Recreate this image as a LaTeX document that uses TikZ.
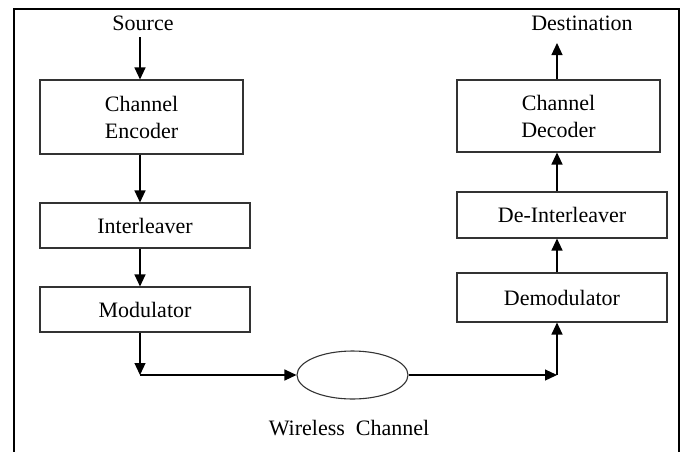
\documentclass[tikz,border=0pt]{standalone}
\usepackage{fontspec}
\setmainfont{Liberation Serif}
\usetikzlibrary{shapes.geometric,arrows.meta}
\begin{document}
\begin{tikzpicture}[x=1pt,y=-1pt,
 blk/.style={draw=black!80, line width=1.1pt, inner sep=0pt, align=center, font=\fontsize{22}{27}\selectfont},
 lbl/.style={inner sep=0pt, font=\fontsize{22}{25}\selectfont},
 arr/.style={-{Triangle[length=12pt,width=11pt]}, line width=1.2pt},
 ln/.style={line width=1.2pt}]
\useasboundingbox (0,0) rectangle (683,451);
\draw[line width=2.6pt] (14,453) -- (14,9) -- (679,9) -- (679,453);
% left column
\node[blk, minimum width=203pt, minimum height=74pt] (enc) at (141.5,117) {Channel\\Encoder};
\node[blk, minimum width=210pt, minimum height=45pt] (intl) at (145,225.5) {Interleaver};
\node[blk, minimum width=210pt, minimum height=45pt] (mod) at (145,309.5) {Modulator};
% right column
\node[blk, minimum width=203pt, minimum height=72pt] (dec) at (558.5,116) {Channel\\Decoder};
\node[blk, minimum width=210pt, minimum height=46pt] (dint) at (562,215) {De-Interleaver};
\node[blk, minimum width=210pt, minimum height=49pt] (dmod) at (562,297.5) {Demodulator};
% channel
\node[ellipse, draw=black!80, line width=1.1pt, minimum width=111pt, minimum height=48pt, inner sep=0pt] (ch) at (352.5,375) {};
% labels
\node[lbl] (src) at (143,23) {Source};
\node[lbl] (dst) at (582,23) {Destination};
\node[lbl] (wl) at (349,428) {Wireless\ \ Channel};
% helper coordinates
\coordinate (L) at (140,0);
\coordinate (R) at (557,0);
\coordinate (s1) at (140,37);
\coordinate (d1) at (557,43);
\coordinate (c1) at (140,375);
\coordinate (c2) at (557,375);
% connectors
\draw[arr] (s1) -- (enc.north -| L);
\draw[arr] (enc.south -| L) -- (intl.north -| L);
\draw[arr] (intl.south -| L) -- (mod.north -| L);
\draw[arr] (mod.south -| L) -- (c1);
\draw[arr] (c1) -- (ch.west);
\draw[arr] (ch.east) -- (c2);
\draw[arr] (c2) -- (dmod.south -| R);
\draw[arr] (dmod.north -| R) -- (dint.south -| R);
\draw[arr] (dint.north -| R) -- (dec.south -| R);
\draw[arr] (dec.north -| R) -- (d1);
\end{tikzpicture}
\end{document}
